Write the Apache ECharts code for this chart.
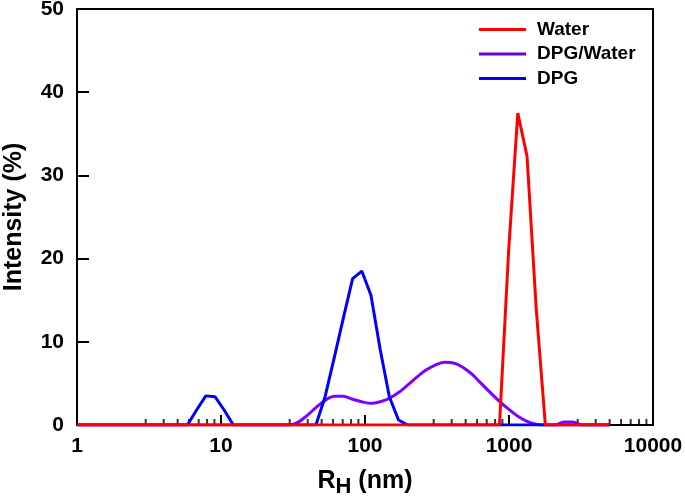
<!DOCTYPE html>
<html><head><meta charset="utf-8">
<script src="https://cdn.jsdelivr.net/npm/echarts@6/dist/echarts.min.js"></script>
<style>html,body{margin:0;padding:0;background:#fff}#c{width:685px;height:502px}</style>
</head><body><div id="c"></div>
<script>
// Hydrodynamic radius bins (nm)
const sizes = [1.004, 1.163, 1.347, 1.560, 1.807, 2.092, 2.423, 2.806, 3.250, 3.763,
  4.359, 5.048, 5.845, 6.770, 7.840, 9.079, 10.51, 12.18, 14.10, 16.33,
  18.92, 21.90, 25.36, 29.37, 34.01, 39.39, 45.62, 52.83, 61.18, 70.85,
  82.05, 95.02, 110.0, 127.4, 147.6, 170.9, 197.9, 229.2, 265.5, 307.4,
  356.0, 412.3, 477.5, 553.0, 640.3, 741.6, 858.8, 994.6, 1151, 1334,
  1545, 1788, 2072, 2400, 2778, 3218, 3727, 4315, 4998];

// Intensity (%) per series
const water = [0,0,0,0,0,0,0,0,0,0, 0,0,0,0,0,0,0,0,0,0,
  0,0,0,0,0,0,0,0,0,0, 0,0,0,0,0,0,0,0,0,0,
  0,0,0,0,0,0,0,21,37.5,32.3, 14,0,0,0,0,0,0,0,0];
const dpgWater = [0,0,0,0,0,0,0,0,0,0, 0,0,0,0,0,0,0,0,0,0,
  0,0,0,0,0.3,1.1,2.1,2.95,3.45,3.45, 3.1,2.8,2.6,2.8,3.2,3.9,4.8,5.75,6.6,7.2,
  7.55,7.45,6.95,6.1,5.0,3.9,2.85,1.9,1.05,0.45, 0.1,0,0,0.35,0.35,0,0,0,0];
const dpg = [0,0,0,0,0,0,0,0,0,0, 0,0,0,1.8,3.5,3.4,1.8,0,0,0,
  0,0,0,0,0,0,0,3.4,8.1,12.9, 17.6,18.5,15.6,9.1,3.4,0.6,0,0,0,0,
  0,0,0,0,0,0,0,0,0,0, 0,0,0,0,0,0,0,0,0];

const seriesNames = ['Water', 'DPG/Water', 'DPG'];
const minorTicks = [3,4,5,6,7,8,9, 30,40,50,60,70,80,90, 300,400,500,600,700,800,900, 3000,4000,5000,6000,7000,8000,9000];

const FONT = '"Liberation Sans", Arial, Helvetica, sans-serif';
const pairs = ys => sizes.map((s, i) => [s, ys[i]]);
const chart = echarts.init(document.getElementById('c'), null, {renderer: 'canvas'});
const blackLine = {color: '#000', width: 2};

chart.setOption({
  animation: false,
  backgroundColor: '#fff',
  grid: {left: 77, top: 9, right: 32, bottom: 77, containLabel: false, outerBoundsMode: 'none'},
  legend: {
    orient: 'vertical', left: 474, top: 15,
    icon: 'rect', itemWidth: 47, itemHeight: 3, itemGap: 5.5,
    data: [
      {name: seriesNames[0]},
      {name: seriesNames[1], itemStyle: {color: '#6a00d4'}},
      {name: seriesNames[2]}
    ],
    textStyle: {fontFamily: FONT, fontWeight: 'bold', fontSize: 19, color: '#000', lineHeight: 19, padding: [0, 0, 0, 6]}
  },
  xAxis: [{
    type: 'log', logBase: 10, min: 1, max: 10000, position: 'bottom',
    axisLine: {onZero: false, lineStyle: blackLine},
    axisTick: {inside: true, length: 10, lineStyle: blackLine},
    axisLabel: {fontFamily: FONT, fontWeight: 'bold', fontSize: 21, color: '#000', margin: 11,
      formatter: v => String(Math.round(v))},
    splitLine: {show: false}, minorTick: {show: false},
    name: '{r|R}{s|H}{r| (nm)}', nameLocation: 'middle', nameGap: 44,
    nameTextStyle: {rich: {
      r: {fontFamily: FONT, fontWeight: 'bold', fontSize: 25, color: '#000', lineHeight: 24},
      s: {fontFamily: FONT, fontWeight: 'bold', fontSize: 22, color: '#000', lineHeight: 24, padding: [12, 0, 0, 0]}
    }}
  }, {
    type: 'log', logBase: 10, min: 1, max: 10000, position: 'top',
    axisLine: {onZero: false, lineStyle: blackLine},
    axisTick: {show: false}, axisLabel: {show: false}, splitLine: {show: false}
  }],
  yAxis: [{
    type: 'value', min: 0, max: 50, interval: 10, position: 'left',
    axisLine: {show: true, onZero: false, lineStyle: blackLine},
    axisTick: {show: true, inside: true, length: 12, lineStyle: blackLine},
    axisLabel: {fontFamily: FONT, fontWeight: 'bold', fontSize: 21, color: '#000', margin: 13},
    splitLine: {show: false},
    name: 'Intensity (%)', nameLocation: 'middle', nameGap: 50,
    nameTextStyle: {fontFamily: FONT, fontWeight: 'bold', fontSize: 25, color: '#000'}
  }, {
    type: 'value', min: 0, max: 50, interval: 10, position: 'right',
    axisLine: {show: true, onZero: false, lineStyle: blackLine},
    axisTick: {show: false}, axisLabel: {show: false}, splitLine: {show: false}
  }],
  series: [
    {type: 'scatter', data: minorTicks.map(v => [v, 0]), symbol: 'rect', symbolSize: [2, 6],
      symbolOffset: [0, -3], itemStyle: {color: '#000'}, silent: true, clip: false, z: 1},
    {name: seriesNames[1], type: 'line', data: pairs(dpgWater), showSymbol: false, smooth: 0.3,
      lineStyle: {color: '#8000ff', width: 3}, itemStyle: {color: '#8000ff'}, z: 2},
    {name: seriesNames[2], type: 'line', data: pairs(dpg), showSymbol: false,
      lineStyle: {color: '#0000ff', width: 3}, itemStyle: {color: '#0000ff'}, z: 3},
    {name: seriesNames[0], type: 'line', data: pairs(water), showSymbol: false,
      lineStyle: {color: '#ff0000', width: 3}, itemStyle: {color: '#ff0000'}, z: 4}
  ]
});
</script></body></html>
